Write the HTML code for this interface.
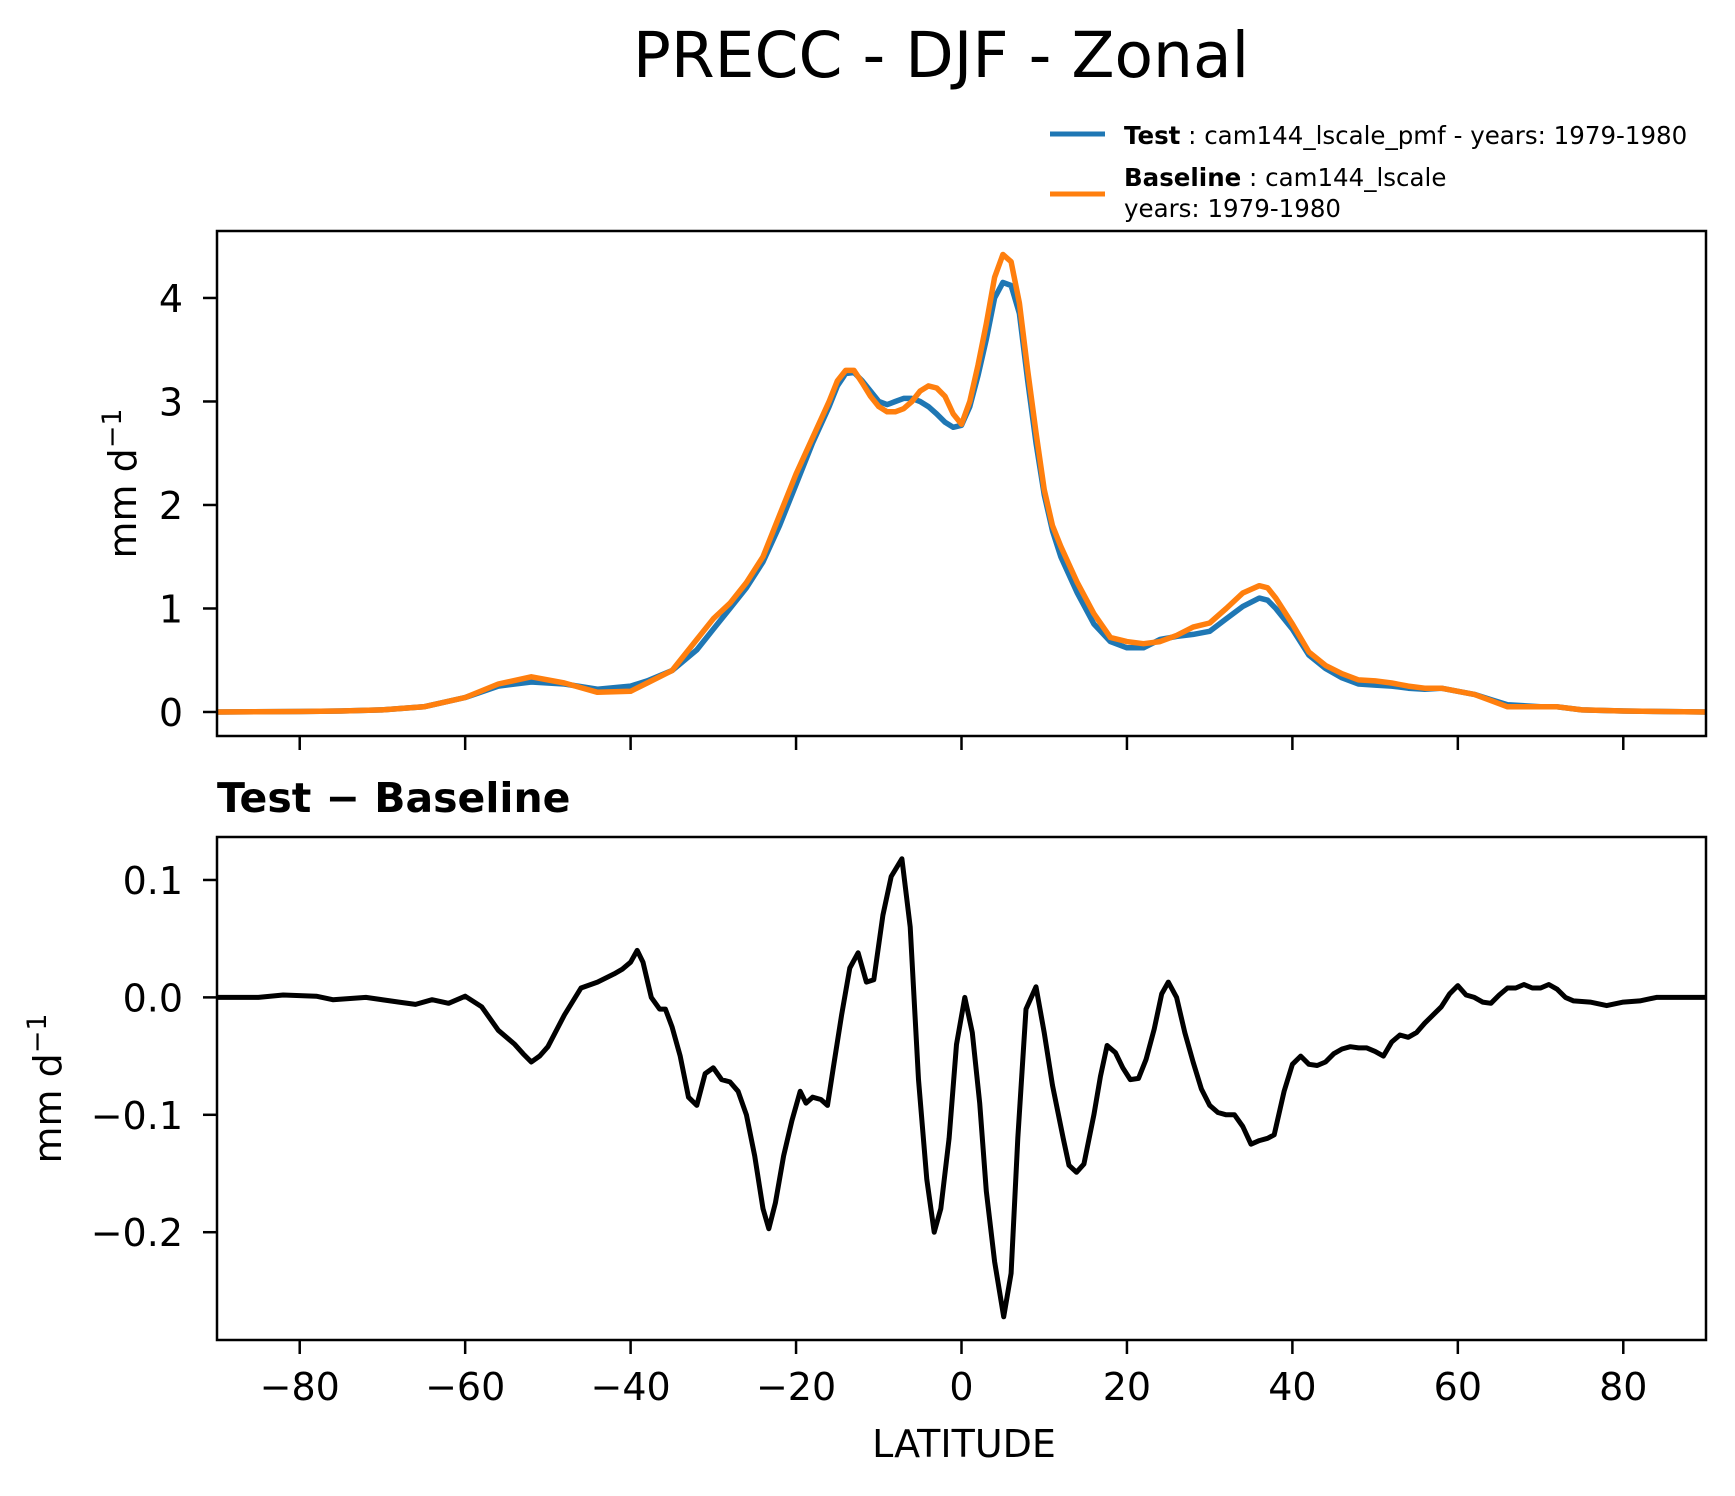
<!DOCTYPE html>
<html><head><meta charset="utf-8"><style>
html,body{margin:0;padding:0;background:#fff;}
svg{display:block;font-family:"DejaVu Sans","Liberation Sans",sans-serif;}
</style></head><body>
<svg id="fig" width="1735" height="1496" viewBox="0 0 1735 1496" xmlns="http://www.w3.org/2000/svg">
<rect width="1735" height="1496" fill="#fff"/>
<text x="941" y="77" font-size="63" text-anchor="middle">PRECC - DJF - Zonal</text>
<g>
<line x1="1050" y1="134" x2="1105" y2="134" stroke="#1f77b4" stroke-width="5"/>
<text x="1124" y="144" font-size="24.5"><tspan font-weight="bold">Test</tspan> : cam144_lscale_pmf - years: 1979-1980</text>
<line x1="1050" y1="194" x2="1105" y2="194" stroke="#ff7f0e" stroke-width="5"/>
<text x="1124" y="186" font-size="24.5"><tspan font-weight="bold">Baseline</tspan> : cam144_lscale</text>
<text x="1124" y="217" font-size="24.5">years: 1979-1980</text>
</g>
<text x="217" y="812" font-size="41" font-weight="bold">Test − Baseline</text>
<text x="964" y="1457" font-size="38" text-anchor="middle">LATITUDE</text>
<g id="top"></g><g id="bot"></g>
</svg>
<script>
const lat = [-90,-80,-75,-70,-65,-60,-56,-52,-48,-44,-40,-38,-35,-32,-30,-28,-26,-24,-22,-20,-18,-16,-15,-14,-13,-12,-11,-10,-9,-8,-7,-6,-5,-4,-3,-2,-1,0,1,2,3,4,5,6,7,8,9,10,11,12,14,16,18,20,22,24,26,28,30,32,34,36,37,38,40,42,44,46,48,50,52,54,56,58,60,62,64,66,70,72,75,80,90];
const testVals = [0,0.005,0.01,0.02,0.05,0.14,0.25,0.29,0.27,0.22,0.25,0.3,0.4,0.6,0.8,1.0,1.2,1.45,1.8,2.2,2.6,2.95,3.15,3.27,3.28,3.2,3.1,3.0,2.97,3.0,3.03,3.03,3.0,2.95,2.88,2.8,2.75,2.77,2.95,3.25,3.6,4.0,4.15,4.12,3.85,3.2,2.6,2.1,1.75,1.5,1.15,0.85,0.68,0.62,0.62,0.7,0.73,0.75,0.78,0.9,1.02,1.1,1.08,1.0,0.8,0.55,0.42,0.33,0.27,0.26,0.25,0.23,0.22,0.23,0.2,0.17,0.12,0.07,0.05,0.05,0.02,0.01,0];
const baseVals = [0,0.005,0.01,0.02,0.05,0.14,0.27,0.34,0.28,0.19,0.2,0.28,0.4,0.7,0.9,1.05,1.25,1.5,1.9,2.3,2.65,3.0,3.2,3.3,3.3,3.18,3.05,2.95,2.9,2.9,2.93,3.0,3.1,3.15,3.13,3.05,2.88,2.78,3.0,3.35,3.75,4.2,4.42,4.35,3.95,3.3,2.7,2.15,1.8,1.6,1.25,0.95,0.72,0.68,0.66,0.68,0.74,0.82,0.86,1.0,1.15,1.22,1.2,1.1,0.85,0.58,0.45,0.37,0.31,0.3,0.28,0.25,0.23,0.23,0.2,0.17,0.11,0.05,0.05,0.05,0.02,0.01,0];
const diffLat = [-90,-85,-82,-78,-76,-72,-68,-66,-64,-62,-60,-58,-56,-54,-53,-52,-51,-50,-48,-46,-44,-42,-41,-40,-39.2,-38.5,-37.5,-36.5,-35.8,-35,-34,-33,-32,-31,-30,-29,-28,-27,-26,-25,-24,-23.3,-22.5,-21.5,-20.5,-19.5,-18.8,-18,-17,-16.2,-15.5,-14.5,-13.5,-12.5,-11.5,-10.6,-9.5,-8.5,-7.2,-6.2,-5.2,-4.2,-3.3,-2.5,-1.5,-0.6,0.4,1.3,2.2,3,4,5.1,6,6.8,7.8,9,10,11,12.3,13,13.9,14.8,16,16.8,17.6,18.6,19.5,20.4,21.4,22.3,23.3,24.2,25,26,27,28,29,30,31,32,33,34,35,36,37,37.8,39,40,41,42,43,44,45,46,47,48,49,50,51,52,53,54,55,56,58,59,60,61,62,63,64,65,66,67,68,69,70,71,72,73,74,76,78,80,82,84,90];
const diffVals = [0,0,0.002,0.001,-0.002,0,-0.004,-0.006,-0.002,-0.005,0.001,-0.008,-0.028,-0.04,-0.048,-0.055,-0.05,-0.042,-0.015,0.008,0.013,0.02,0.024,0.03,0.04,0.03,0.0,-0.01,-0.01,-0.025,-0.05,-0.085,-0.092,-0.065,-0.06,-0.07,-0.072,-0.08,-0.1,-0.135,-0.18,-0.197,-0.175,-0.135,-0.105,-0.08,-0.09,-0.085,-0.087,-0.092,-0.06,-0.015,0.025,0.038,0.013,0.015,0.07,0.103,0.118,0.06,-0.07,-0.155,-0.2,-0.18,-0.12,-0.04,0.0,-0.03,-0.09,-0.165,-0.225,-0.272,-0.235,-0.12,-0.01,0.009,-0.03,-0.075,-0.12,-0.143,-0.149,-0.142,-0.1,-0.067,-0.041,-0.047,-0.06,-0.07,-0.069,-0.053,-0.027,0.003,0.013,0.0,-0.03,-0.055,-0.078,-0.092,-0.098,-0.1,-0.1,-0.11,-0.125,-0.122,-0.12,-0.117,-0.08,-0.057,-0.05,-0.057,-0.058,-0.055,-0.048,-0.044,-0.042,-0.043,-0.043,-0.046,-0.05,-0.038,-0.032,-0.034,-0.03,-0.022,-0.008,0.003,0.01,0.002,0.0,-0.004,-0.005,0.002,0.008,0.008,0.011,0.008,0.008,0.011,0.007,0.0,-0.003,-0.004,-0.007,-0.004,-0.003,0,0];
const xTicks = [-80,-60,-40,-20,0,20,40,60,80];
const topTicks = [0,1,2,3,4];
const botTicks = [0.1,0.0,-0.1,-0.2];
const botTickLabels = ["0.1","0.0","−0.1","−0.2"];

const NS="http://www.w3.org/2000/svg";
const X0=217,X1=1706;
const xs=v=>X0+(v+90)/180*(X1-X0);
const T={y0:231,y1:736,min:-0.232,max:4.647};
const B={y0:837,y1:1340,min:-0.2918,max:0.1366};
const ys=(A,v)=>A.y1-(v-A.min)/(A.max-A.min)*(A.y1-A.y0);
function mk(tag,attrs,parent){const e=document.createElementNS(NS,tag);for(const k in attrs)e.setAttribute(k,attrs[k]);parent.appendChild(e);return e;}
function axes(A,g,labels,yTickVals,yTickLabels,ylabX,prefix){
  const fr=mk('rect',{x:X0,y:A.y0,width:X1-X0,height:A.y1-A.y0,fill:'none',stroke:'#000','stroke-width':2.5},g);
  
  
  for(const t of xTicks){const x=xs(t);
    const l=mk('line',{x1:x,x2:x,y1:A.y1,y2:A.y1+14,stroke:'#000','stroke-width':2.5},g);
    
    
    if(labels){const tx=mk('text',{x:x,y:A.y1+60,'font-size':38,'text-anchor':'middle'},g);tx.textContent=(t<0?'−':'')+Math.abs(t);
      
      }
  }
  yTickVals.forEach((t,i)=>{const y=ys(A,t);
    const l=mk('line',{x1:X0-14,x2:X0,y1:y,y2:y,stroke:'#000','stroke-width':2.5},g);
    
    
    const tx=mk('text',{x:X0-34,y:y+14,'font-size':38,'text-anchor':'end'},g);tx.textContent=yTickLabels[i];
    
    
  });
  const cy=(A.y0+A.y1)/2;
  const yl=mk('text',{x:ylabX,y:cy,'font-size':38,'text-anchor':'middle',transform:`rotate(-90 ${ylabX} ${cy})`},g);
  yl.innerHTML='mm d<tspan dy="-15" font-size="27">−1</tspan>';
  
  
}
function line(A,g,lx,vals,color,w,name){
  const d=lx.map((x,i)=>(i?'L':'M')+xs(x).toFixed(1)+','+ys(A,vals[i]).toFixed(1)).join('');
  const p=mk('path',{d:d,fill:'none',stroke:color,'stroke-width':w,'stroke-linejoin':'round'},g);
  
  
}
const gt=document.getElementById('top'),gb=document.getElementById('bot');


const cpT=mk('clipPath',{id:'ct'},gt);mk('rect',{x:X0,y:T.y0,width:X1-X0,height:T.y1-T.y0},cpT);
const gtl=mk('g',{'clip-path':'url(#ct)'},gt);
line(T,gtl,lat,testVals,'#1f77b4',5.5,'test-line');
line(T,gtl,lat,baseVals,'#ff7f0e',5.5,'baseline-line');
axes(T,gt,false,topTicks,topTicks.map(String),136,'top');
const cpB=mk('clipPath',{id:'cb'},gb);mk('rect',{x:X0,y:B.y0,width:X1-X0,height:B.y1-B.y0},cpB);
const gbl=mk('g',{'clip-path':'url(#cb)'},gb);
line(B,gbl,diffLat,diffVals,'#000',5,'diff-line');
axes(B,gb,true,botTicks,botTickLabels,61,'diff');
</script>
</body></html>
